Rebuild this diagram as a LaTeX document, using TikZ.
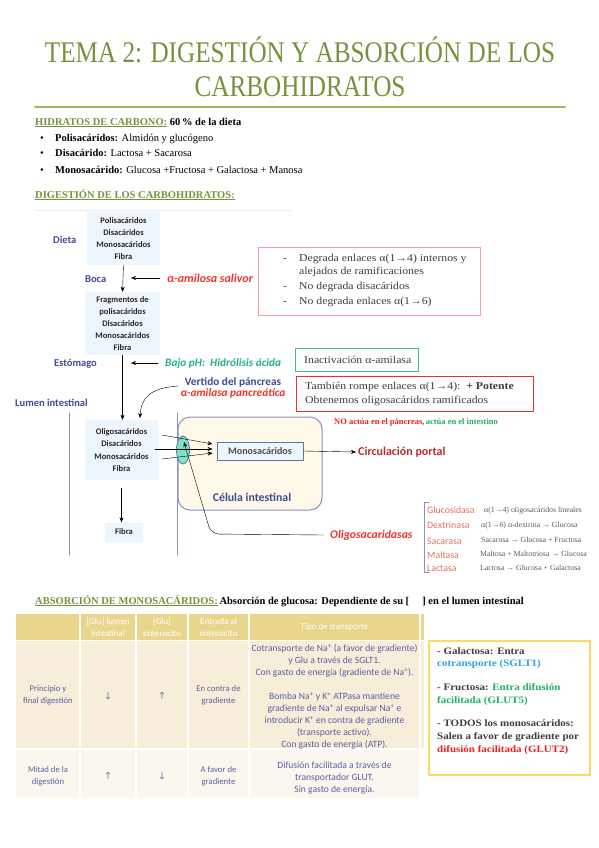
\documentclass[tikz,border=0pt]{standalone}
\usepackage{fontspec}
\setmainfont{Liberation Serif}
\newfontfamily\calib{Carlito}
\newfontfamily\wideserif{Liberation Serif}[FakeStretch=1.12]
\usetikzlibrary{arrows.meta,shapes.geometric}
\definecolor{titlegreen}{RGB}{118,146,60}
\definecolor{rulegreen}{RGB}{155,187,89}
\definecolor{lblue}{RGB}{66,74,150}
\definecolor{boxfill}{RGB}{238,246,253}
\definecolor{amired}{RGB}{240,50,40}
\definecolor{acidgreen}{RGB}{30,180,120}
\definecolor{portred}{RGB}{190,40,45}
\definecolor{salmon}{RGB}{226,112,96}
\definecolor{cellfill}{RGB}{254,249,233}
\definecolor{cellline}{RGB}{140,144,196}
\definecolor{chanfill}{RGB}{127,227,194}
\definecolor{pinkline}{RGB}{240,160,160}
\definecolor{boxgreen}{RGB}{64,192,128}
\definecolor{boxred}{RGB}{230,50,50}
\definecolor{ttext}{RGB}{60,60,60}
\definecolor{thead}{RGB}{233,214,140}
\definecolor{trowa}{RGB}{246,238,216}
\definecolor{trowb}{RGB}{251,247,238}
\definecolor{tblue}{RGB}{90,94,168}
\definecolor{gold}{RGB}{255,217,102}
\definecolor{skyblue}{RGB}{48,160,224}
\definecolor{okgreen}{RGB}{32,176,96}
\definecolor{nored}{RGB}{240,30,30}

\tikzset{
  txt/.style={inner sep=0pt,anchor=base west},
  body/.style={font=\fontsize{10.5}{12}\selectfont},
  titl/.style={inner sep=0pt,anchor=base,text=titlegreen,font=\fontsize{30}{32}\selectfont},
  lbl/.style={font=\calib\bfseries\fontsize{10.5}{11}\selectfont,text=lblue,inner sep=0pt},
  sbox/.style={fill=boxfill,align=center,inner sep=0pt,font=\calib\bfseries\fontsize{8.5}{12}\selectfont,text=black!85},
  tcell/.style={align=center,inner sep=0pt,text=tblue,font=\calib\fontsize{8.7}{12}\selectfont},
  thcell/.style={align=center,inner sep=0pt,text=white,font=\calib\fontsize{9}{12}\selectfont},
  enz/.style={txt,text=salmon,font=\calib\fontsize{9.8}{10}\selectfont},
  enzdesc/.style={txt,text=black!65,font=\fontsize{7.8}{8}\selectfont}
}

\begin{document}
\begin{tikzpicture}[x=1pt,y=-1pt,>={Stealth[length=5pt,width=4pt]},line cap=round,line join=round]
\useasboundingbox (0,0) rectangle (599,848);

% title
\node[titl] (tit1) at (300,63) {\scalebox{0.84}[1]{TEMA 2: DIGESTIÓN Y ABSORCIÓN DE LOS}};
\node[titl] (tit2) at (300,97) {\scalebox{0.84}[1]{CARBOHIDRATOS}};
\coordinate (ruleL) at (35,107);
\coordinate (ruleR) at (565,107);
\draw[rulegreen,line width=2pt] (ruleL) -- (ruleR);

% hidratos de carbono
\node[txt,body] (hc) at (35,125) {\bfseries{\color{titlegreen}\underline{HIDRATOS DE CARBONO:}} 60\,\% de la dieta};
\node[txt,body] (b1) at (40,141) {\textbullet};
\node[txt,body] (l1) at (55,141) {\textbf{Polisacáridos:} Almidón y glucógeno};
\node[txt,body] (b2) at (40,157) {\textbullet};
\node[txt,body] (l2) at (55,157) {\textbf{Disacárido:} Lactosa + Sacarosa};
\node[txt,body] (b3) at (40,173) {\textbullet};
\node[txt,body] (l3) at (55,173) {\textbf{Monosacárido:} Glucosa +Fructosa + Galactosa + Manosa};
\node[txt,body] (dig) at (35,198) {\bfseries\color{titlegreen}\underline{DIGESTIÓN DE LOS CARBOHIDRATOS:}};

% digestion diagram
\coordinate (topL) at (35,210);
\coordinate (topR) at (290,210);
\draw[black!8,line width=0.6pt] (topL) -- (topR);

\node[sbox,minimum width=73pt,minimum height=53pt] (dieta) at (123.5,238.5) {Polisacáridos\\Disacáridos\\Monosacáridos\\Fibra};
\node[sbox,minimum width=75pt,minimum height=63pt] (frag) at (122.5,323.5) {Fragmentos de\\polisacáridos\\Disacáridos\\Monosacáridos\\Fibra};
\node[sbox,minimum width=73pt,minimum height=60pt,font=\calib\bfseries\fontsize{8.5}{12.5}\selectfont] (lum) at (121.5,450) {Oligosacáridos\\Disacáridos\\Monosacáridos\\Fibra};
\node[sbox,minimum width=38pt,minimum height=19pt] (fib) at (124,532) {Fibra};

\node[lbl,anchor=west] (ldieta) at (53,240) {Dieta};
\node[lbl,anchor=west] (lboca) at (85,279) {Boca};
\node[lbl,anchor=west] (lest) at (54,364) {Estómago};
\node[lbl,anchor=west] (llum) at (15,403) {Lumen intestinal};

\draw[->] (dieta.south) -- (frag.north);
\draw[->] (frag.south) -- (frag.south |- lum.north);
\draw[->] (lum.south) ++(0,-8pt) coordinate (fa) -- (fa |- fib.north);

\node[anchor=west,inner sep=0pt,text=amired,font=\calib\bfseries\itshape\fontsize{12}{12}\selectfont] (saliva) at (167,278) {α-amilosa salivor};
\coordinate (salivaT) at (131,278);
\draw[->] ([xshift=-7pt]saliva.west) -- (salivaT);
\node[anchor=west,inner sep=0pt,text=acidgreen,font=\calib\bfseries\itshape\fontsize{11.3}{12}\selectfont] (acid) at (165,363) {Bajo pH:\ \ Hidrólisis ácida};
\coordinate (acidT) at (131,363);
\draw[->] ([xshift=-7pt]acid.west) -- (acidT);

\node[inner sep=0pt,align=center,font=\calib\bfseries\fontsize{11.3}{10.5}\selectfont] (vert) at (233,388) {\color{lblue}Vertido del páncreas\\\color{amired}\itshape α-amilasa pancreática};
\coordinate (vertT) at (140,418);
\draw[->] (178,386) .. controls (150,388) and (141,398) .. (vertT);

% membranes and cell
\coordinate (m1a) at (69,413);
\coordinate (m1b) at (69,555);
\coordinate (m2a) at (177,413);
\coordinate (m2b) at (177,555);
\draw[cellline,line width=1pt] (m1a) -- (m1b);
\draw[cellline,line width=1pt] (m2a) -- (m2b);
\node[draw=cellline,fill=cellfill,line width=1pt,rounded corners=12pt,minimum width=144pt,minimum height=93pt] (cell) at (250,463.5) {};
\node[lbl,font=\calib\bfseries\fontsize{11.8}{12}\selectfont] (lcell) at (252,497) {Célula intestinal};
\node[draw=lblue!80,fill=boxfill,line width=0.8pt,minimum width=86pt,minimum height=18pt,inner sep=0pt,text=black!70,font=\calib\bfseries\fontsize{10}{10}\selectfont] (mono) at (260,451) {Monosacáridos};
\node[ellipse,draw=lblue!80,fill=chanfill,line width=0.8pt,minimum width=13pt,minimum height=28pt,inner sep=0pt] (chan) at (183,450) {};
\draw[->] (162,435) -- ([xshift=-4pt,yshift=7pt]mono.west);
\draw[->] (155,449) -- ([xshift=-4pt,yshift=2pt]mono.west);
\draw[->] (162,459) -- ([xshift=-4pt,yshift=-2pt]mono.west);

\node[anchor=west,inner sep=0pt,text=portred,font=\calib\bfseries\fontsize{12}{12}\selectfont] (portal) at (358,452) {Circulación portal};
\draw[->] (mono.east) -- ([xshift=-2pt]portal.west);

\node[anchor=west,inner sep=0pt,text=amired,font=\calib\bfseries\itshape\fontsize{11.7}{12}\selectfont] (olig) at (330,535) {Oligosacaridasas};
\coordinate (chanT) at (184,442);
\draw[->,rounded corners=8pt] ([xshift=-6pt]olig.west) -- (211,534) -- (chanT);

% enzymes
\coordinate (brA) at (429,502);
\coordinate (brB) at (424,502);
\coordinate (brC) at (424,572);
\coordinate (brD) at (429,572);
\draw[cellline,line width=1pt] (brA) -- (brB) -- (brC) -- (brD);
\node[enz] (e1) at (427,513) {Glucosidasa};
\node[enz] (e2) at (427,528) {Dextrinasa};
\node[enz] (e3) at (427,544) {Sacarasa};
\node[enz] (e4) at (427,558) {Maltasa};
\node[enz] (e5) at (427,571) {Lactasa};
\node[enzdesc] (d1) at (484,512) {α(1→4) oligosacáridos lineales};
\node[enzdesc] (d2) at (481,527) {α(1→6) α-dextrina → Glucosa};
\node[enzdesc] (d3) at (481,542) {Sacarosa → Glucosa + Fructosa};
\node[enzdesc] (d4) at (480,556) {Maltosa + Maltotriosa → Glucosa};
\node[enzdesc] (d5) at (480,570) {Lactosa → Glucosa + Galactosa};

% notes
\node[draw=pinkline,line width=0.9pt,minimum width=222pt,minimum height=68pt] (notea) at (369,281) {};
\node[anchor=north west,inner sep=0pt,text=ttext,font=\wideserif\fontsize{10.5}{15}\selectfont] (noteatxt) at (283,251)
  {\begin{tabular}{@{}l@{\hspace{12pt}}l@{}}
   - & Degrada enlaces α(1→4) internos y\\[-2.5pt]
     & alejados de ramificaciones\\
   - & No degrada disacáridos\\
   - & No degrada enlaces α(1→6)
   \end{tabular}};
\node[draw=boxgreen,line width=0.9pt,minimum width=123pt,minimum height=23pt] (inact) at (356.5,359.5) {};
\node[anchor=west,inner sep=0pt,text=ttext,font=\wideserif\fontsize{10.5}{11}\selectfont] (inacttxt) at (304,359.5) {Inactivación α-amilasa};
\node[draw=boxred,line width=0.9pt,minimum width=237pt,minimum height=35pt] (noteb) at (414.5,393.5) {};
\node[anchor=west,inner sep=0pt,align=left,text=ttext,font=\wideserif\fontsize{10.5}{13.5}\selectfont] (notebtxt) at (305,394) {También rompe enlaces α(1→4):\ \ \textbf{+ Potente}\\Obtenemos oligosacáridos ramificados};
\node[anchor=west,inner sep=0pt,font=\bfseries\fontsize{8.5}{10}\selectfont] (noact) at (334,422) {\color{nored}NO actúa en el páncreas,\,\color{okgreen}actúa en el intestino};

% absorcion
\node[txt,body] (abs) at (35,604) {\bfseries{\color{titlegreen}\underline{ABSORCIÓN DE MONOSACÁRIDOS:}}\,Absorción de glucosa: Dependiente de su [\quad\ ] en el lumen intestinal};

% table
\fill[thead] (16,614) rectangle (424,640);
\fill[trowa] (16,641) rectangle (424,748);
\fill[trowb] (16,750) rectangle (420,798);
\foreach \cx in {80,136,188,249,420} {\draw[white,line width=1.5pt] (\cx,614) -- (\cx,798);}
\node[thcell] (h2) at (108,627) {[Glu] lumen\\intestinal};
\node[thcell] (h3) at (162,627) {[Glu]\\enterocito};
\node[thcell] (h4) at (218.5,627) {Entrada al\\enterocito};
\node[thcell] (h5) at (334.5,627) {Tipo de transporte};
\node[tcell] (r1c1) at (48,695.5) {Principio y\\final digestión};
\node[tcell] (r1c2) at (108,696) {↓};
\node[tcell] (r1c3) at (162,696) {↑};
\node[tcell] (r1c4) at (218.5,695.5) {En contra de\\gradiente};
\node[tcell,font=\calib\fontsize{9.6}{12}\selectfont] (r1c5) at (334.5,697) {Cotransporte de Na\textsuperscript{+} (a favor de gradiente)\\y Glu a través de SGLT1.\\Con gasto de energía (gradiente de Na\textsuperscript{+}).\\[12pt]Bomba Na\textsuperscript{+} y K\textsuperscript{+} ATPasa mantiene\\gradiente de Na\textsuperscript{+} al expulsar Na\textsuperscript{+} e\\introducir K\textsuperscript{+} en contra de gradiente\\(transporte activo).\\Con gasto de energía (ATP).};
\node[tcell] (r2c1) at (48,776) {Mitad de la\\digestión};
\node[tcell] (r2c2) at (108,776) {↑};
\node[tcell] (r2c3) at (162,776) {↓};
\node[tcell] (r2c4) at (218.5,776) {A favor de\\gradiente};
\node[tcell,font=\calib\fontsize{9.6}{12}\selectfont] (r2c5) at (334.5,778) {Difusión facilitada a través de\\transportador GLUT.\\Sin gasto de energía.};

% info box
\node[draw=gold,line width=1.5pt,minimum width=161pt,minimum height=134pt] (info) at (509.5,708) {};
\node[anchor=north west,inner sep=0pt,align=left,text=ttext,font=\wideserif\bfseries\fontsize{9.8}{12.7}\selectfont] (infotxt) at (437,647)
  {- Galactosa: Entra\\\color{skyblue}cotransporte (SGLT1)\\[11pt]
   - Fructosa: {\color{okgreen}Entra difusión}\\\color{okgreen}facilitada (GLUT5)\\[11pt]
   - TODOS los monosacáridos:\\Salen a favor de gradiente por\\\color{nored}difusión facilitada (GLUT2)};
\end{tikzpicture}
\end{document}
